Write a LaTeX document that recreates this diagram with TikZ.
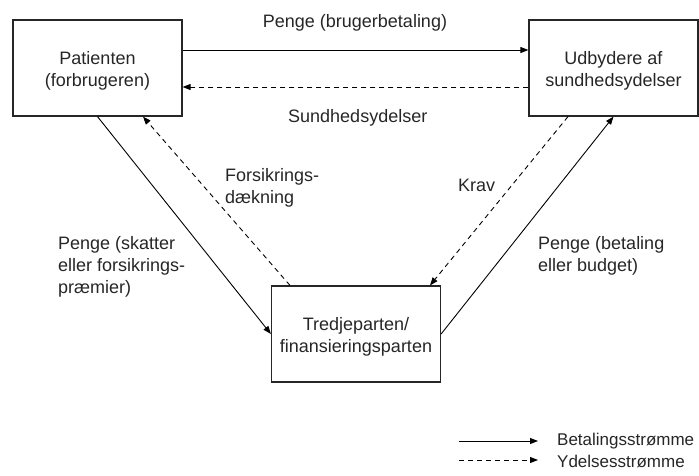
\documentclass[tikz,border=0pt]{standalone}
\usepackage{fontspec}
\setmainfont{Liberation Sans}
\usetikzlibrary{arrows.meta}
\newcommand{\lowerstrut}{\rule{0pt}{19pt}}
\begin{document}
\begin{tikzpicture}[x=1pt,y=-1pt,
  every node/.style={font=\fontsize{18}{22}\selectfont, text=black!85},
  box/.style={draw=black!85, line width=1.2pt, minimum width=169pt, minimum height=96pt, align=center, inner sep=0pt},
  lbl/.style={align=left, inner sep=0pt, anchor=west},
  leg/.style={lbl, font=\fontsize{17}{22}\selectfont},
  pay/.style={draw=black, line width=0.9pt, -{Triangle[length=8pt,width=6pt]}},
  ser/.style={draw=black, line width=0.9pt, dash pattern=on 5pt off 4pt, -{Triangle[length=8pt,width=6pt]}}]
\useasboundingbox (0,0) rectangle (699,475);
\node[box] (pat) at (97.5,68) {\lowerstrut Patienten\\(forbrugeren)};
\node[box] (udb) at (613.5,68) {\lowerstrut Udbydere af\\sundhedsydelser};
\node[box] (tre) at (356,334) {\lowerstrut Tredjeparten/\\finansieringsparten};
% connectors
\draw[pay] ([yshift=18pt]pat.east) -- ([yshift=18pt]udb.west);
\draw[ser] ([yshift=-19pt]udb.west) -- ([yshift=-19pt]pat.east);
\draw[pay] (pat.south) -- (tre.west);
\draw[ser] ([xshift=-66pt]tre.north) -- ([xshift=45.5pt]pat.south);
\draw[ser] ([xshift=-45.5pt]udb.south) -- ([xshift=74pt]tre.north);
\draw[pay] (tre.east) -- (udb.south);
% labels
\node[inner sep=0pt] (l1) at (355,23) {Penge (brugerbetaling)};
\node[lbl] (l2) at (288,118) {Sundhedsydelser};
\node[lbl] (l3) at (225,188) {Forsikrings-\\dækning};
\node[lbl] (l4) at (58,267) {Penge (skatter\\eller forsikrings-\\præmier)};
\node[lbl] (l5) at (458,185) {Krav};
\node[lbl] (l6) at (538,256) {Penge (betaling\\eller budget)};
% legend
\coordinate (a1) at (459,441);
\coordinate (a2) at (538,441);
\coordinate (b1) at (459,460);
\coordinate (b2) at (538,460);
\draw[pay] (a1) -- (a2);
\draw[ser] (b1) -- (b2);
\node[leg] (g1) at (557,441) {Betalingsstrømme};
\node[leg] (g2) at (557,461) {Ydelsesstrømme};
\end{tikzpicture}
\end{document}
